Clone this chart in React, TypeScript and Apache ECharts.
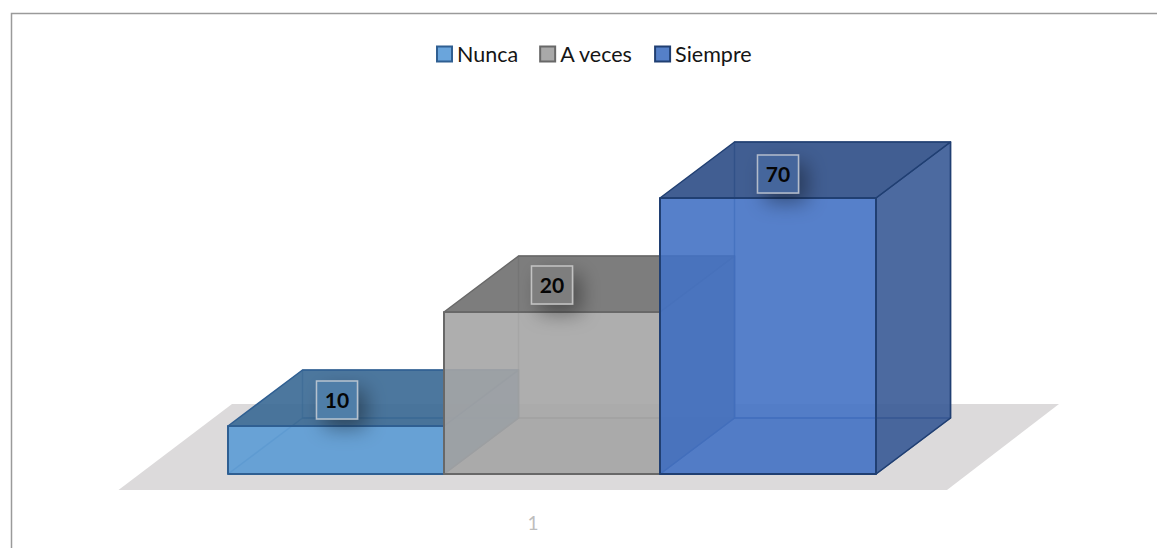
import React, { useEffect, useRef } from "react";
import * as echarts from "echarts";

const categories = ["1"];
const seriesNames = ["Nunca", "A veces", "Siempre"];
const seriesValues = [10, 20, 70];

const frontColors = ["rgba(91,155,213,0.9)", "rgba(165,165,165,0.9)", "rgba(68,114,196,0.9)"];
const shadeColors = ["rgba(56,104,148,0.9)", "rgba(111,111,111,0.9)", "rgba(44,77,134,0.9)"];
const sideColors = ["rgba(62,112,158,0.9)", "rgba(118,118,118,0.9)", "rgba(56,90,150,0.9)"];
const labelFills = ["#507ea8", "#7e7e7e", "#44669c"];
const edgeColors = ["#2f5f92", "#686868", "#203f72"];
const hiddenEdges = ["rgba(47,95,146,0.55)", "rgba(104,104,104,0.55)", "rgba(32,63,114,0.7)"];
const legendFills = ["#6aa5dc", "#a9a9a9", "#5580c8"];

const FONT = "Lato, 'Open Sans', sans-serif";
const BAR_WIDTH = 216;
const FIRST_BAR_OFFSET = -305;
const DEPTH_X = 74.5;
const DEPTH_Y = -56;
const LABEL_SHIFTS = [[1, -26], [0, -27], [10, -24]];

// Display scale of the value axis: equal steps for 10, 20 and 70.
const level = (v: number) => Math.log((v - 7.5) / 2.5) / Math.log(5) + 48 / 114;

const renderFloor = (_: any, api: any) => {
  const [cx, base] = api.coord([api.value(0), 0]);
  return {
    type: "polygon",
    silent: true,
    shape: {
      points: [
        [cx - 414.5, base + 16],
        [cx + 414, base + 16],
        [cx + 526, base - 70],
        [cx - 301, base - 70],
      ],
    },
    style: { fill: "#dcdadb" },
  };
};

const makeBox = (index: number) => (_: any, api: any) => {
  const value = api.value(1);
  const [cx, base] = api.coord([api.value(0), 0]);
  const top = api.coord([api.value(0), level(value)])[1];
  const l = cx + FIRST_BAR_OFFSET + index * BAR_WIDTH;
  const r = l + BAR_WIDTH;
  const edge = edgeColors[index];
  const face = (points: number[][], fill: string, lineWidth = 1.5, stroke = edge) => ({
    type: "polygon",
    shape: { points },
    style: { fill, stroke, lineWidth, lineJoin: "round" },
  });
  const bx = DEPTH_X;
  const by = DEPTH_Y;
  const [sx, sy] = LABEL_SHIFTS[index];
  const lx = (l + r) / 2 + sx;
  const ly = top + sy;
  return {
    type: "group",
    silent: true,
    children: [
      // hidden faces first, seen through the translucent front
      face([[l + bx, top + by], [r + bx, top + by], [r + bx, base + by], [l + bx, base + by]], "rgba(255,255,255,0)", 1.5, hiddenEdges[index]),
      face([[l, base], [l + bx, base + by], [r + bx, base + by], [r, base]], "rgba(0,0,0,0.04)", 1.5, hiddenEdges[index]),
      // top and right faces
      face([[r, top], [r + bx, top + by], [r + bx, base + by], [r, base]], sideColors[index]),
      face([[l, top], [l + bx, top + by], [r + bx, top + by], [r, top]], shadeColors[index]),
      face([[l, top], [r, top], [r, base], [l, base]], frontColors[index], 2),
      // value label
      {
        type: "rect",
        shape: { x: lx - 20.5, y: ly - 19, width: 41, height: 38 },
        style: {
          fill: labelFills[index],
          stroke: "rgba(225,225,225,0.7)",
          lineWidth: 1.5,
          shadowBlur: 20,
          shadowColor: "rgba(0,0,0,0.38)",
          shadowOffsetX: 8,
          shadowOffsetY: 9,
        },
      },
      {
        type: "text",
        style: {
          text: String(value),
          x: lx,
          y: ly - 1,
          align: "center",
          verticalAlign: "middle",
          font: `bold 21px ${FONT}`,
          fill: "#050505",
        },
      },
    ],
  };
};

export default function App() {
  const ref = useRef<HTMLDivElement>(null);
  useEffect(() => {
    document.body.style.margin = "0";
    const chart = echarts.init(ref.current!, undefined, { renderer: "svg" });
    chart.setOption({
      animation: false,
      backgroundColor: "#ffffff",
      grid: { left: 119, width: 828, top: 132, height: 342 },
      xAxis: {
        type: "category",
        data: categories,
        axisLine: { show: false },
        axisTick: { show: false },
        axisLabel: { color: "#bdbdbd", fontSize: 19, fontFamily: FONT, margin: 39 },
      },
      yAxis: { type: "value", min: 0, max: 3, show: false },
      legend: {
        data: seriesNames,
        left: 431,
        top: 38,
        icon: "rect",
        itemWidth: 15,
        itemHeight: 15,
        itemGap: 21,
        textStyle: { fontFamily: FONT, fontSize: 21.5, color: "#151515", padding: [0, 0, 0, 0] },
      },
      graphic: [
        {
          type: "polyline",
          shape: { points: [[11.5, 548], [11.5, 13.5], [1157, 13.5]] },
          style: { fill: "none", stroke: "#9a9a9a", lineWidth: 1.5 },
        },
      ],
      series: [
        {
          type: "custom",
          name: "Plano",
          data: [[0, 0]],
          renderItem: renderFloor,
          z: 1,
        },
        ...seriesNames.map((name, i) => ({
          type: "custom",
          name,
          data: [[0, seriesValues[i]]],
          encode: { x: 0, y: 1 },
          renderItem: makeBox(i),
          clip: false,
          z: 2 + i,
          itemStyle: { color: legendFills[i], borderColor: edgeColors[i], borderWidth: 2 },
        })),
      ],
    });
    return () => chart.dispose();
  }, []);
  return <div ref={ref} style={{ width: 1157, height: 548 }} />;
}
